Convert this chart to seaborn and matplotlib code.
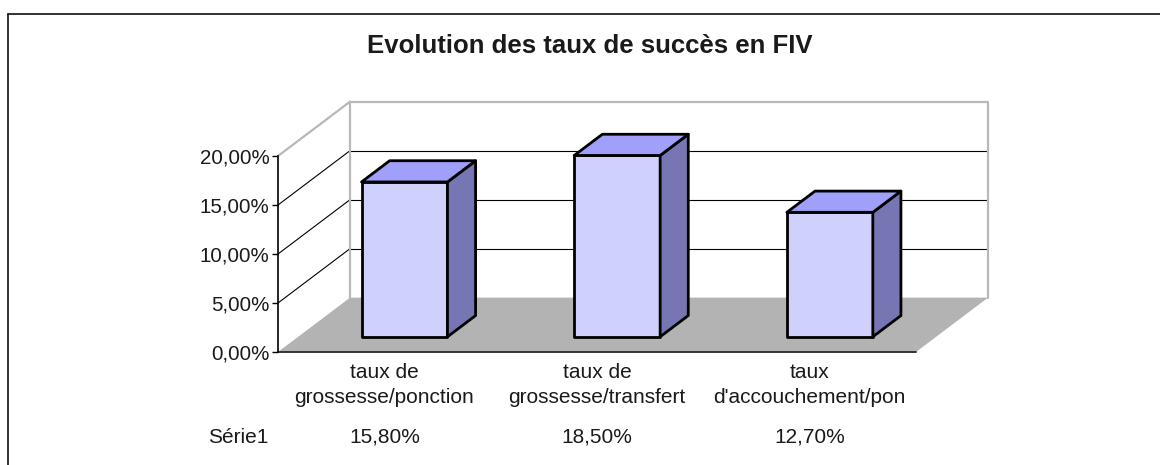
import matplotlib
matplotlib.use("Agg")
import matplotlib.pyplot as plt
from matplotlib.patches import Polygon
from matplotlib.lines import Line2D
from matplotlib.ticker import FuncFormatter
import seaborn as sns
import pandas as pd

# chart data
titre = "Evolution des taux de succès en FIV"
categories = ["taux de\ngrossesse/ponction", "taux de\ngrossesse/transfert", "taux\nd'accouchement/pon"]
valeurs = [0.158, 0.185, 0.127]
valeurs_txt = ["15,80%", "18,50%", "12,70%"]
serie = "Série1"
y_ticks = [0.0, 0.05, 0.10, 0.15, 0.20]

df = pd.DataFrame({"cat": categories, "val": valeurs})

sns.set_style("white")
plt.rcParams["font.family"] = ["Liberation Sans", "DejaVu Sans"]

# couleurs des faces 3D
c_front = "#d0d0fc"
c_top = "#a0a0fa"
c_side = "#7676b4"
c_floor = "#b3b3b3"
c_wall = "#b8b8b8"

# profondeur du cadre 3D (en unites de donnees)
DX, DY = 0.339, 0.0555
# position de la barre dans la profondeur
f_front, f_depth = 0.28, 0.39
lw_bar = 2.0

fig = plt.figure(figsize=(11.6, 4.65), dpi=100)
ax = fig.add_axes([278 / 1160, 1 - 352 / 465, 638 / 1160, 196 / 465])

# sol
floor = Polygon([(-0.5, 0), (2.5, 0), (2.5 + DX, DY), (-0.5 + DX, DY)],
                closed=True, facecolor=c_floor, edgecolor="none", zorder=0, clip_on=False)
ax.add_patch(floor)

# murs: grille du fond et diagonales du mur gauche
for v in y_ticks[1:-1]:
    ax.plot([-0.5 + DX, 2.5 + DX], [v + DY, v + DY], color="black", lw=0.8, zorder=1, clip_on=False)
    ax.plot([-0.5, -0.5 + DX], [v, v + DY], color="black", lw=0.8, zorder=1, clip_on=False)
top = y_ticks[-1]
ax.plot([-0.5 + DX, -0.5 + DX, 2.5 + DX, 2.5 + DX], [DY, top + DY, top + DY, DY],
        color=c_wall, lw=1.6, zorder=1, clip_on=False)
ax.plot([-0.5, -0.5 + DX], [top, top + DY], color=c_wall, lw=1.6, zorder=1, clip_on=False)
ax.plot([-0.5, 2.5], [0, 0], color="#333333", lw=1.4, zorder=2, clip_on=False)

# barres (face avant)
sns.barplot(data=df, x="cat", y="val", color=c_front, saturation=1, width=0.404,
            edgecolor="black", linewidth=lw_bar, errorbar=None, ax=ax, zorder=3)

bdx, bdy = DX * f_depth, DY * f_depth
for p in ax.patches[1:]:
    p.set_x(p.get_x() + DX * f_front)
    p.set_y(DY * f_front)
    p.set_clip_on(False)
    p.set_joinstyle("round")
    x0, y0 = p.get_x(), p.get_y()
    x1, y1 = x0 + p.get_width(), y0 + p.get_height()
    side = Polygon([(x1, y0), (x1, y1), (x1 + bdx, y1 + bdy), (x1 + bdx, y0 + bdy)],
                   closed=True, facecolor=c_side, edgecolor="black", lw=lw_bar, zorder=3,
                   joinstyle="round", clip_on=False)
    topf = Polygon([(x0, y1), (x1, y1), (x1 + bdx, y1 + bdy), (x0 + bdx, y1 + bdy)],
                   closed=True, facecolor=c_top, edgecolor="black", lw=lw_bar, zorder=3,
                   joinstyle="round", clip_on=False)
    ax.add_patch(side)
    ax.add_patch(topf)

ax.set_xlim(-0.5, 2.5)
ax.set_ylim(0, 0.20)
ax.set_yticks(y_ticks)
ax.yaxis.set_major_formatter(FuncFormatter(lambda v, _: f"{v * 100:.2f}%".replace(".", ",")))
ax.set_xlabel("")
ax.set_ylabel("")
for s in ["top", "right", "bottom"]:
    ax.spines[s].set_visible(False)
ax.spines["left"].set_color("black")
ax.spines["left"].set_linewidth(1.2)
ax.tick_params(axis="y", left=True, length=4, width=1, color="black", pad=2,
               labelsize=14.8, labelcolor="#1a1a1a")
ax.tick_params(axis="x", length=0, pad=8, labelsize=15, labelcolor="#1a1a1a")
for lab in ax.get_xticklabels():
    lab.set_linespacing(1.4)
ax.patch.set_visible(False)

# tableau de donnees
ax.text(-0.5 - 0.045, -0.0868, serie, ha="right", va="center", fontsize=15, color="#1a1a1a")
for i, t in enumerate(valeurs_txt):
    ax.text(i, -0.0868, t, ha="center", va="center", fontsize=15, color="#1a1a1a")

fig.text(590 / 1160, 1 - 46 / 465, titre, ha="center", va="center",
         fontsize=18.5, fontweight="bold", color="#1a1a1a")

# cadre du graphique
fig.add_artist(Line2D([8 / 1160, 8 / 1160], [0, 1 - 14 / 465], color="#222222", lw=1.3))
fig.add_artist(Line2D([8 / 1160, 1], [1 - 14 / 465, 1 - 14 / 465], color="#222222", lw=1.3))

fig.savefig("out.png", dpi=100)
